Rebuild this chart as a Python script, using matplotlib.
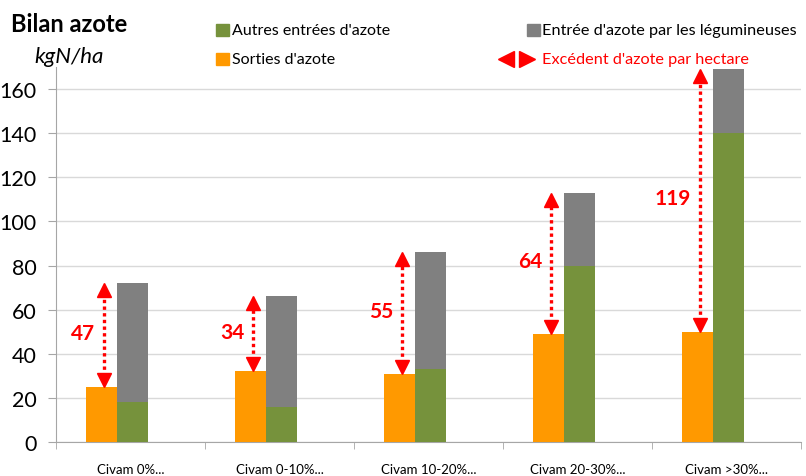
import numpy as np
import matplotlib
matplotlib.use('Agg')
import matplotlib.pyplot as plt
from matplotlib.patches import Rectangle

plt.rcParams['font.family'] = ['Lato', 'DejaVu Sans']

# data (kgN/ha)
categories = ['Civam 0%...', 'Civam 0-10%...', 'Civam 10-20%...', 'Civam 20-30%...', 'Civam >30%...']
sorties = [25, 32, 31, 49, 50]
autres = [18, 16, 33, 80, 140]
legumineuses = [54, 50, 53, 33, 29]
excedent = [47, 34, 55, 64, 119]

orange = '#FF9900'
green = '#76923C'
grey = '#808080'
red = '#FF0000'
axis_grey = '#A6A6A6'

fig = plt.figure(figsize=(8.06, 4.77), dpi=100)
ax = fig.add_axes([0.0695, 0.0713, 0.924, 0.786])

x = np.arange(len(categories))
w = 0.208
ax.bar(x - 0.300, sorties, w, align='edge', color=orange, zorder=3)
ax.bar(x - 0.092, autres, w, align='edge', color=green, zorder=3)
ax.bar(x - 0.092, legumineuses, w, bottom=autres, align='edge', color=grey, zorder=3)

# dotted double arrows for the nitrogen surplus
totals = np.array(autres) + np.array(legumineuses)
for i in range(len(categories)):
    xa = x[i] - 0.175
    lo, hi = sorties[i], totals[i]
    ax.plot([xa, xa], [lo + 5, hi - 5], color=red, lw=2.4, ls=(0, (1, 1)), zorder=4)
    ax.plot(xa, hi - 3.2, marker='^', ms=10, color=red, mec=red, zorder=4)
    ax.plot(xa, lo + 3.2, marker='v', ms=10, color=red, mec=red, zorder=4)
    ax.text(xa - 0.06, (lo + hi) / 2 + 1, str(excedent[i]), color=red, fontsize=15,
            fontweight='bold', ha='right', va='center', zorder=5)

ax.set_xlim(-0.5, 4.5)
ax.set_ylim(0, 170)
ax.set_yticks(range(0, 161, 20))
ax.tick_params(axis='y', length=6, color=axis_grey, labelsize=15.5, pad=8)
ax.set_xticks(x)
ax.set_xticklabels(categories, fontsize=9.5)
ax.set_xticks(np.arange(-0.5, 4.6, 1), minor=True)
ax.tick_params(axis='x', which='major', length=0, pad=15)
ax.tick_params(axis='x', which='minor', length=5, color=axis_grey)
ax.grid(axis='y', color='#D9D9D9', lw=1, zorder=0)
for s in ['right', 'top']:
    ax.spines[s].set_visible(False)
ax.spines['bottom'].set_color(axis_grey)
ax.spines['left'].set_color(axis_grey)

# title and legend drawn by hand
fig.text(0.014, 0.948, 'Bilan azote', fontsize=17, fontweight='bold', va='center')
fig.text(0.043, 0.881, 'kgN/ha', fontsize=16, style='italic', va='center')

def square(xf, yf, c):
    fig.patches.append(Rectangle((xf, yf - 0.0125), 0.0165, 0.025, color=c,
                                 transform=fig.transFigure))

square(0.268, 0.935, green)
fig.text(0.288, 0.935, "Autres entrées d'azote", fontsize=11.5, va='center')
square(0.654, 0.935, grey)
fig.text(0.672, 0.935, "Entrée d'azote par les légumineuses", fontsize=11.7, va='center')
square(0.268, 0.874, orange)
fig.text(0.288, 0.874, "Sorties d'azote", fontsize=11.5, va='center')
ax.plot([0.628], [0.874], marker='<', ms=11, color=red, transform=fig.transFigure, clip_on=False)
ax.plot([0.654], [0.874], marker='>', ms=11, color=red, transform=fig.transFigure, clip_on=False)
fig.text(0.672, 0.874, "Excédent d'azote par hectare", fontsize=11.7, color=red, va='center')

fig.savefig('out.png', dpi=100)
